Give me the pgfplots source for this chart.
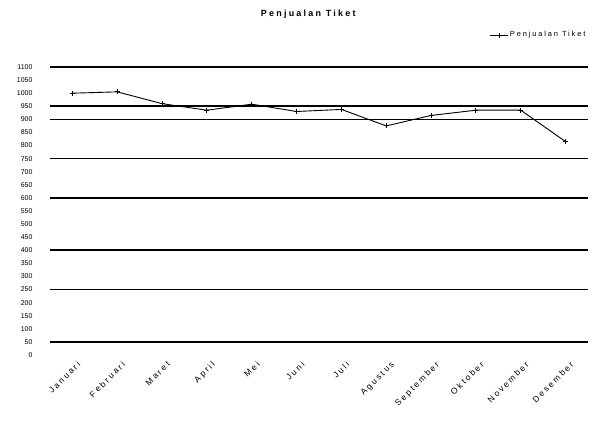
\documentclass[border=0pt]{standalone}
\usepackage{fontspec}
\setmainfont{Liberation Sans}
\newfontfamily\widefont[LetterSpace=25]{Liberation Sans}
\usepackage{pgfplots}
\pgfplotsset{compat=1.18}
\begin{document}
\begin{tikzpicture}
\useasboundingbox (-50bp,-69bp) rectangle (563bp,355bp);
\begin{axis}[
    at={(0,0)}, anchor=south west,
    scale only axis, width=538bp, height=288bp,
    xmin=-0.5, xmax=11.5, ymin=0, ymax=1100,
    axis line style={draw=none},
    /pgf/number format/assume math mode=true,
    /pgf/number format/1000 sep={},
    xtick={0,...,11},
    xticklabels={Januari, Februari, Maret, April, Mei, Juni, Juli,
        Agustus, September, Oktober, November, Desember},
    xticklabel style={rotate=45, anchor=north east, inner sep=1bp,
        font=\widefont\fontsize{8.5}{9}\selectfont},
    x tick label style={yshift=-6bp},
    major x tick style={draw=none},
    ytick={0,50,...,1100},
    major y tick style={draw=none},
    yticklabel style={font=\fontsize{7}{7}\selectfont, xshift=-14bp},
    extra x ticks={7.5,8.5,9.5,10.5,11.5},
    extra x tick labels={},
    extra x tick style={tick align=outside, tick pos=bottom,
        major tick length=4bp, tick style={draw=black, line width=0.8bp}},
    extra y ticks={50,250,400,600,750,900,950,1100},
    extra y tick labels={},
    extra y tick style={grid=major, tick style={draw=none},
        major grid style={black, line width=1.6bp}},
    title={Penjualan Tiket},
    title style={at={(0.48,1)}, anchor=center, yshift=47bp,
        font=\widefont\bfseries\fontsize{9}{10}\selectfont},
    legend style={at={(0.812,1.111)}, anchor=west, draw=none, fill=none,
        font=\widefont\fontsize{7.5}{8}\selectfont},
    legend cell align=left,
]
\addplot[black, line width=0.9bp, mark=+, mark size=2.5bp] coordinates {
  (0,1000) (1,1005) (2,960) (3,935) (4,958) (5,930)
  (6,938) (7,875) (8,915) (9,935) (10,935) (11,815)
};
\addlegendentry{Penjualan Tiket}
\end{axis}
\end{tikzpicture}
\end{document}
